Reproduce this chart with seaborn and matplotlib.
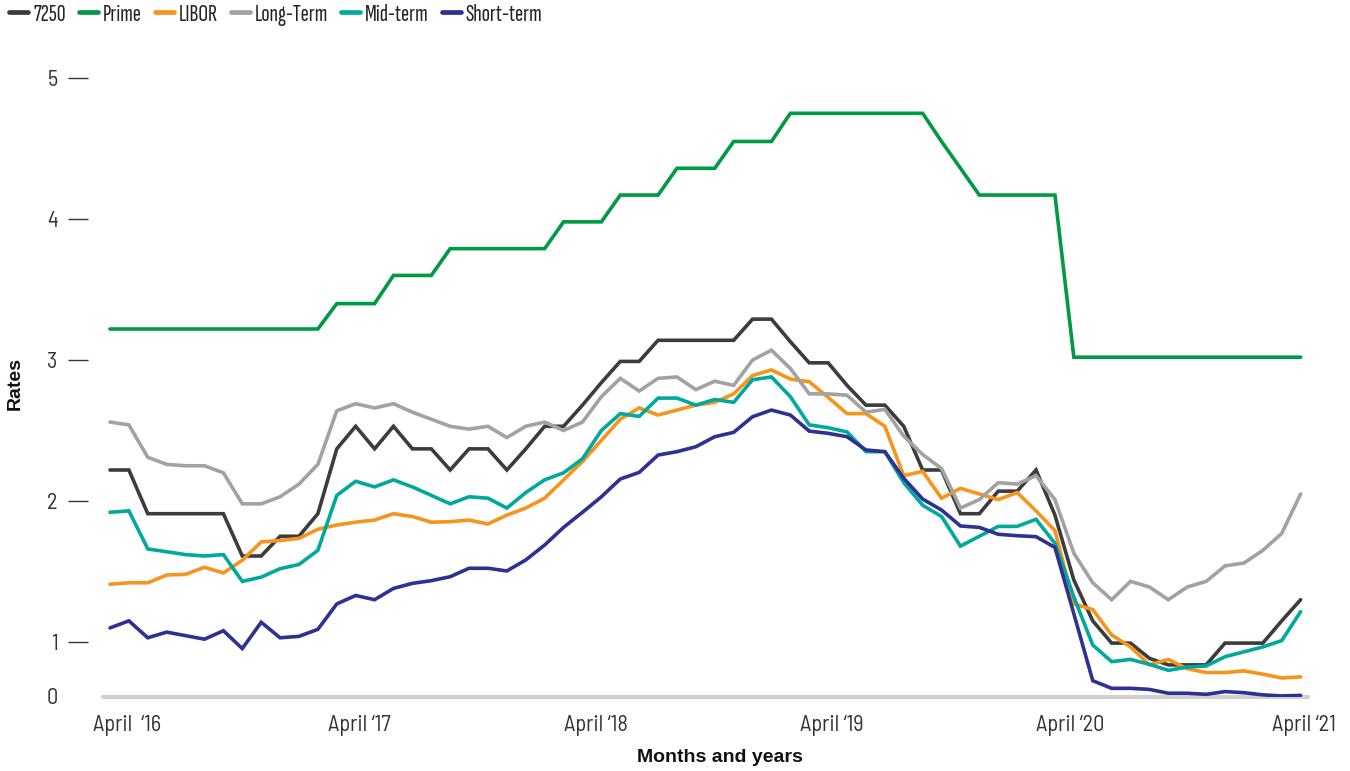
import numpy as np
import pandas as pd
import matplotlib
matplotlib.use("Agg")
import matplotlib.pyplot as plt
from matplotlib.lines import Line2D
from matplotlib import font_manager as fm
from matplotlib.font_manager import FontProperties
from matplotlib.textpath import TextPath
import seaborn as sns

# ---------------- data (monthly, Jan 2016 .. Apr 2021) ----------------
months = pd.date_range("2016-01-01", periods=64, freq="MS")

rate_7250 = [2.22, 2.22, 1.91, 1.91, 1.91, 1.91, 1.91, 1.61, 1.61, 1.75, 1.75, 1.91, 2.37, 2.53, 2.37, 2.53,
             2.37, 2.37, 2.22, 2.37, 2.37, 2.22, 2.37, 2.53, 2.53, 2.68, 2.84, 2.99, 2.99, 3.14, 3.14, 3.14,
             3.14, 3.14, 3.29, 3.29, 3.13, 2.98, 2.98, 2.82, 2.68, 2.68, 2.53, 2.22, 2.22, 1.91, 1.91, 2.07,
             2.07, 2.22, 1.90, 1.44, 1.15, 0.98, 0.98, 0.70, 0.58, 0.58, 0.58, 0.98, 0.98, 0.98, 1.15, 1.30]

prime = [3.22] * 12 + [3.40] * 3 + [3.60] * 3 + [3.79] * 6 + [3.98] * 3 + [4.17] * 3 + [4.36] * 3 + \
        [4.55] * 3 + [4.75] * 8 + [4.55, 4.36] + [4.17] * 5 + [3.02] * 13

libor = [1.41, 1.42, 1.42, 1.475, 1.48, 1.53, 1.49, 1.58, 1.71, 1.72, 1.735, 1.80, 1.83, 1.85, 1.865, 1.91,
         1.89, 1.85, 1.853, 1.865, 1.837, 1.90, 1.95, 2.02, 2.15, 2.28, 2.43, 2.58, 2.66, 2.61, 2.645, 2.68,
         2.70, 2.76, 2.89, 2.93, 2.865, 2.846, 2.735, 2.62, 2.62, 2.53, 2.18, 2.21, 2.02, 2.09, 2.05, 2.01,
         2.06, 1.93, 1.79, 1.27, 1.23, 1.05, 0.91, 0.58, 0.68, 0.51, 0.44, 0.44, 0.47, 0.41, 0.34, 0.36]

long_term = [2.56, 2.54, 2.31, 2.26, 2.25, 2.25, 2.20, 1.98, 1.98, 2.03, 2.12, 2.26, 2.64, 2.69, 2.66, 2.69,
             2.63, 2.58, 2.53, 2.51, 2.53, 2.45, 2.53, 2.56, 2.50, 2.56, 2.74, 2.87, 2.78, 2.87, 2.88, 2.79,
             2.85, 2.82, 3.00, 3.07, 2.94, 2.76, 2.76, 2.75, 2.63, 2.65, 2.46, 2.33, 2.23, 1.95, 2.01, 2.13,
             2.12, 2.18, 2.01, 1.63, 1.42, 1.30, 1.43, 1.39, 1.30, 1.39, 1.43, 1.54, 1.56, 1.65, 1.77, 2.05]

mid_term = [1.92, 1.93, 1.66, 1.64, 1.62, 1.61, 1.62, 1.43, 1.46, 1.52, 1.55, 1.65, 2.04, 2.14, 2.10, 2.15,
            2.10, 2.04, 1.98, 2.03, 2.02, 1.95, 2.06, 2.15, 2.20, 2.30, 2.50, 2.62, 2.60, 2.73, 2.73, 2.68,
            2.72, 2.70, 2.86, 2.88, 2.74, 2.54, 2.52, 2.49, 2.35, 2.35, 2.13, 1.97, 1.89, 1.68, 1.75, 1.82,
            1.82, 1.87, 1.70, 1.32, 0.945, 0.64, 0.68, 0.59, 0.48, 0.54, 0.56, 0.73, 0.82, 0.91, 1.01, 1.215]

short_term = [1.10, 1.15, 1.03, 1.07, 1.045, 1.02, 1.08, 0.88, 1.14, 1.03, 1.04, 1.09, 1.27, 1.33, 1.30, 1.38,
              1.416, 1.435, 1.463, 1.523, 1.523, 1.504, 1.582, 1.688, 1.813, 1.92, 2.03, 2.156, 2.203, 2.326, 2.35, 2.385,
              2.456, 2.487, 2.598, 2.645, 2.61, 2.496, 2.48, 2.456, 2.362, 2.35, 2.161, 2.014, 1.936, 1.823, 1.813, 1.764,
              1.754, 1.747, 1.671, 1.20, 0.29, 0.15, 0.15, 0.13, 0.06, 0.06, 0.04, 0.09, 0.07, 0.03, 0.01, 0.02]

series_names = ["7250", "Prime", "LIBOR", "Long-Term", "Mid-term", "Short-term"]
series_colors = ["#3c3c3c", "#009944", "#f7941d", "#a2a2a4", "#00a99d", "#2e3192"]

xtick_labels = ["April  \u201816", "April \u201817", "April \u201818", "April \u201819", "April \u201820", "April \u201821"]
xtick_pos = [0.9, 13.2, 25.7, 38.2, 50.8, 63.2]   # month-index positions of the labels
ytick_vals = [0, 1, 2, 3, 4, 5]

# ---------------- long table ----------------
values = [rate_7250, prime, libor, long_term, mid_term, short_term]
df = pd.DataFrame({
    "month": np.tile(np.arange(len(months)), len(series_names)),
    "rate": np.concatenate([np.asarray(v, float) for v in values]),
    "series": np.repeat(series_names, len(months)),
})

# ---------------- fonts ----------------
sns.set_theme(style="white")
installed = {f.name for f in fm.fontManager.ttflist}
def first(cands):
    return [c for c in cands if c in installed][:1]

TICK_FONT = first(["Barlow Semi Condensed", "Liberation Sans"]) + ["DejaVu Sans"]
BOLD_FONT = ["Liberation Sans", "DejaVu Sans"]
plt.rcParams["font.family"] = TICK_FONT

# legend face: the compressed face whose width/cap-height ratio matches the original
# ("Short-term" ~62 px wide, capitals ~16 px tall)
leg_cands = [c for c in ["Sofia Sans Extra Condensed", "Sofia Sans Condensed", "Pathway Gothic One",
                         "Saira ExtraCondensed", "Saira Condensed", "Fira Sans Extra Condensed",
                         "Fira Sans Condensed", "Encode Sans Compressed", "Encode Sans Condensed",
                         "Roboto Condensed", "Barlow Condensed", "Archivo Narrow", "Asap Condensed",
                         "IBM Plex Sans Condensed"] if c in installed]
target_ratio, cap_px = 62.0 / 16.0, 16.0
LEG_FAMILY, LEG_SIZE, best_err = None, 16.5, 1e9
for c in leg_cands:
    fp = FontProperties(family=c)
    try:
        w = TextPath((0, 0), "Short-term", size=10, prop=fp).get_extents().width
        h = TextPath((0, 0), "H", size=10, prop=fp).get_extents().height
    except Exception:
        continue
    if h <= 0:
        continue
    err = abs(w / h - target_ratio)
    if err < best_err:
        best_err, LEG_FAMILY = err, c
        LEG_SIZE = 10 * (cap_px * 0.72) / h
LEG_FONT = ([LEG_FAMILY] if LEG_FAMILY else []) + ["DejaVu Sans"]

# ---------------- figure ----------------
W, H = 1350, 771
fig = plt.figure(figsize=(W / 100, H / 100), dpi=100)
ax = fig.add_axes([103 / W, (H - 696.5) / H, (1308 - 103) / W, (696.5 - 60) / H])

# compressed segment below 1 (as in the original's y axis)
K = 54.5 / 141.0
def fwd(v):
    v = np.asarray(v, float)
    return np.where(v < 1, v * K, v - 1 + K)
def inv(t):
    t = np.asarray(t, float)
    return np.where(t < K, t / K, t + 1 - K)
ax.set_yscale("function", functions=(fwd, inv))

sns.lineplot(data=df, x="month", y="rate", hue="series", hue_order=series_names,
             palette=dict(zip(series_names, series_colors)), linewidth=2.6,
             estimator=None, legend=False, ax=ax)
for ln in ax.get_lines():
    ln.set_solid_joinstyle("miter")

ax.set_xlim(-0.37, 63.39)
ax.set_ylim(0, 5.128)

ax.axhline(0, color="#d0d0d0", lw=3.0, zorder=0.5, clip_on=False)
for s in ["top", "right", "bottom"]:
    ax.spines[s].set_visible(False)
ax.spines["left"].set_color("none")
ax.spines["left"].set_position(("outward", 10.8))

ax.set_yticks(ytick_vals)
ax.set_yticklabels([str(v) for v in ytick_vals])
ax.tick_params(axis="y", which="major", direction="out", length=14.4, width=1.0,
               color="#333333", pad=7.5, labelsize=16, labelcolor="#333333", left=True)
ax.yaxis.get_major_ticks()[0].tick1line.set_visible(False)
ax.minorticks_off()

ax.set_xticks(xtick_pos)
ax.set_xticklabels(xtick_labels)
ax.tick_params(axis="x", length=0, pad=13, labelsize=16, labelcolor="#333333")
ax.set_xlabel("")
ax.set_ylabel("")
ax.grid(False)

fig.text(15 / W, 1 - 384 / H, "Rates", rotation=90, ha="center", va="center",
         fontsize=14, fontweight="bold", color="#111111", family=BOLD_FONT)
fig.text(720 / W, 1 - 757 / H, "Months and years", ha="center", va="center",
         fontsize=14, fontweight="bold", color="#111111", family=BOLD_FONT)

em_px = LEG_SIZE * 100 / 72
handles = [Line2D([], [], color=c, lw=3.4, solid_capstyle="round") for c in series_colors]
fig.legend(handles, series_names, loc="upper left", bbox_to_anchor=(0.004, 1.0), ncol=6,
           frameon=False, prop={"family": LEG_FONT, "size": LEG_SIZE},
           handlelength=19 / em_px, handletextpad=5 / em_px, columnspacing=13 / em_px,
           borderaxespad=0.0, borderpad=0.15, labelcolor="#222222")

fig.savefig("out.png", dpi=100)
